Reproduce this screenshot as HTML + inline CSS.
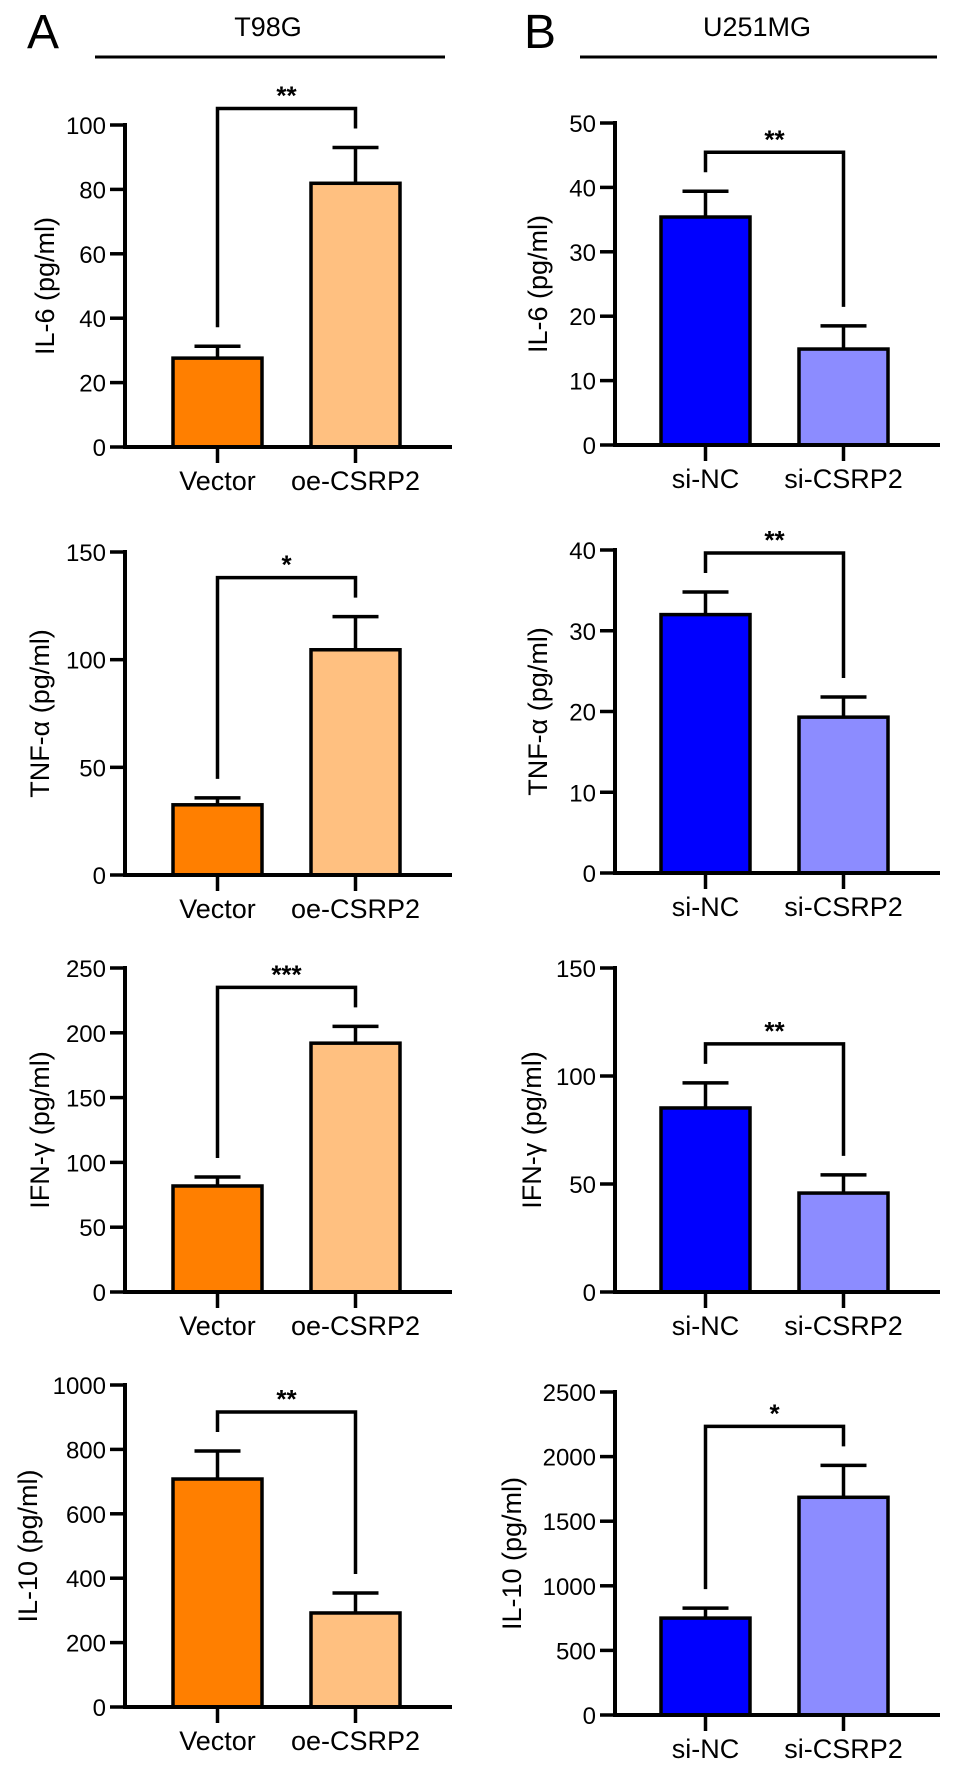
<!DOCTYPE html>
<html><head><meta charset="utf-8">
<style>
html,body{margin:0;padding:0;background:#fff;}
svg{display:block;font-family:"Liberation Sans",Arial,sans-serif;}
</style></head>
<body>
<svg id="fig" width="969" height="1770" viewBox="0 0 969 1770" xmlns="http://www.w3.org/2000/svg">
  <text x="27" y="48" font-size="48">A</text>
  <text x="524" y="48" font-size="48">B</text>
  <text x="268" y="36" font-size="27" text-anchor="middle">T98G</text>
  <text x="757" y="36" font-size="27" text-anchor="middle">U251MG</text>
  <line x1="95" y1="57" x2="445" y2="57" stroke="#000" stroke-width="3"/>
  <line x1="580" y1="57" x2="937" y2="57" stroke="#000" stroke-width="3"/>
</svg>
<script>
// ---- data ----
const catsA = ["Vector", "oe-CSRP2"];
const catsB = ["si-NC", "si-CSRP2"];
const il6T98GValues = [27.6, 81.9];
const il6T98GErrTop = [31.3, 93];
const il6T98GTicks = [0, 20, 40, 60, 80, 100];
const tnfT98GValues = [32.6, 104.6];
const tnfT98GErrTop = [35.8, 120];
const tnfT98GTicks = [0, 50, 100, 150];
const ifnT98GValues = [81.8, 192];
const ifnT98GErrTop = [88.7, 205];
const ifnT98GTicks = [0, 50, 100, 150, 200, 250];
const il10T98GValues = [708, 292];
const il10T98GErrTop = [795, 354];
const il10T98GTicks = [0, 200, 400, 600, 800, 1000];
const il6U251Values = [35.4, 14.9];
const il6U251ErrTop = [39.4, 18.5];
const il6U251Ticks = [0, 10, 20, 30, 40, 50];
const tnfU251Values = [32, 19.3];
const tnfU251ErrTop = [34.8, 21.8];
const tnfU251Ticks = [0, 10, 20, 30, 40];
const ifnU251Values = [85.2, 45.8];
const ifnU251ErrTop = [96.8, 54.2];
const ifnU251Ticks = [0, 50, 100, 150];
const il10U251Values = [750, 1685];
const il10U251ErrTop = [827, 1932];
const il10U251Ticks = [0, 500, 1000, 1500, 2000, 2500];
const sigLabels = ["**", "*", "***", "**", "**", "**", "**", "*"];

// ---- layout (not data) ----
const NS = "http://www.w3.org/2000/svg";
const svg = document.getElementById('fig');
function mk(tag, attrs, parent) {
  const e = document.createElementNS(NS, tag);
  for (const k in attrs) e.setAttribute(k, attrs[k]);
  (parent || svg).appendChild(e);
  return e;
}
const colA = {axisX: 125, bars: [173, 311], end: 452, colors: ["#FF7F00", "#FFC080"], cats: catsA};
const colB = {axisX: 615, bars: [661, 799], end: 940, colors: ["#0000FF", "#8C8CFF"], cats: catsB};
const panels = [
  {id: "il6-t98g", col: colA, titleX: 45, top: 125, zero: 447, vals: il6T98GValues, err: il6T98GErrTop, ticks: il6T98GTicks, title: "IL-6 (pg/ml)", sig: sigLabels[0]},
  {id: "tnf-t98g", col: colA, titleX: 40, top: 552, zero: 875, vals: tnfT98GValues, err: tnfT98GErrTop, ticks: tnfT98GTicks, title: "TNF-α (pg/ml)", sig: sigLabels[1]},
  {id: "ifn-t98g", col: colA, titleX: 40, top: 968, zero: 1292, vals: ifnT98GValues, err: ifnT98GErrTop, ticks: ifnT98GTicks, title: "IFN-γ (pg/ml)", sig: sigLabels[2]},
  {id: "il10-t98g", col: colA, titleX: 28, top: 1385, zero: 1707, vals: il10T98GValues, err: il10T98GErrTop, ticks: il10T98GTicks, title: "IL-10 (pg/ml)", sig: sigLabels[3]},
  {id: "il6-u251", col: colB, titleX: 538, top: 123, zero: 445, vals: il6U251Values, err: il6U251ErrTop, ticks: il6U251Ticks, title: "IL-6 (pg/ml)", sig: sigLabels[4]},
  {id: "tnf-u251", col: colB, titleX: 538, top: 550, zero: 873, vals: tnfU251Values, err: tnfU251ErrTop, ticks: tnfU251Ticks, title: "TNF-α (pg/ml)", sig: sigLabels[5]},
  {id: "ifn-u251", col: colB, titleX: 532, top: 968, zero: 1292, vals: ifnU251Values, err: ifnU251ErrTop, ticks: ifnU251Ticks, title: "IFN-γ (pg/ml)", sig: sigLabels[6]},
  {id: "il10-u251", col: colB, titleX: 512, top: 1392, zero: 1715, vals: il10U251Values, err: il10U251ErrTop, ticks: il10U251Ticks, title: "IL-10 (pg/ml)", sig: sigLabels[7]}
];
const BW = 89;

panels.forEach(p => {
  const g = mk('g', {});
  
  
  const maxT = p.ticks[p.ticks.length - 1];
  const y = v => p.zero - (v / maxT) * (p.zero - p.top);
  const ax = p.col.axisX;
  const legEnds = [];
  p.vals.forEach((v, i) => {
    const x0 = p.col.bars[i], cx = x0 + BW / 2;
    const r = mk('rect', {x: x0, y: y(v), width: BW, height: p.zero - y(v), fill: p.col.colors[i], stroke: "#000", "stroke-width": 3.5}, g);
    
    
    const e1 = mk('line', {x1: cx, y1: y(v), x2: cx, y2: y(p.err[i]), stroke: "#000", "stroke-width": 3.5}, g);
    
    
    const e2 = mk('line', {x1: cx - 23, y1: y(p.err[i]), x2: cx + 23, y2: y(p.err[i]), stroke: "#000", "stroke-width": 3.5}, g);
    
    
    legEnds.push({x: cx, y: y(p.err[i]) - 19});
    const xt = mk('line', {x1: cx, y1: p.zero, x2: cx, y2: p.zero + 16, stroke: "#000", "stroke-width": 3.5}, g);
    
    
    const xl = mk('text', {x: cx, y: p.zero + 43, "font-size": 27, "text-anchor": "middle"}, g);
    xl.textContent = p.col.cats[i];
    
    
  });
  const ya = mk('line', {x1: ax, y1: p.top - 2, x2: ax, y2: p.zero + 2, stroke: "#000", "stroke-width": 4}, g);
  
  
  const xa = mk('line', {x1: ax, y1: p.zero, x2: p.col.end, y2: p.zero, stroke: "#000", "stroke-width": 4}, g);
  
  
  p.ticks.forEach(t => {
    const tl = mk('line', {x1: ax - 15, y1: y(t), x2: ax, y2: y(t), stroke: "#000", "stroke-width": 3.5}, g);
    
    
    const tx = mk('text', {x: ax - 19, y: y(t) + 9, "font-size": 24, "text-anchor": "end"}, g);
    tx.textContent = t;
    
    
  });
  const midY = (p.top + p.zero) / 2;
  const yt = mk('text', {x: p.titleX, y: midY, "font-size": 27, "text-anchor": "middle", transform: `rotate(-90 ${p.titleX} ${midY})`, dy: 9}, g);
  yt.textContent = p.title;
  
  
  const topY = Math.min(legEnds[0].y, legEnds[1].y) - 20;
  const br = mk('polyline', {points: `${legEnds[0].x},${legEnds[0].y} ${legEnds[0].x},${topY} ${legEnds[1].x},${topY} ${legEnds[1].x},${legEnds[1].y}`, fill: "none", stroke: "#000", "stroke-width": 3.5}, g);
  
  
  const st = mk('text', {x: (legEnds[0].x + legEnds[1].x) / 2, y: topY - 4, "font-size": 26, "font-weight": "bold", "text-anchor": "middle"}, g);
  st.textContent = p.sig;
  
  
});
</script>
</body></html>
